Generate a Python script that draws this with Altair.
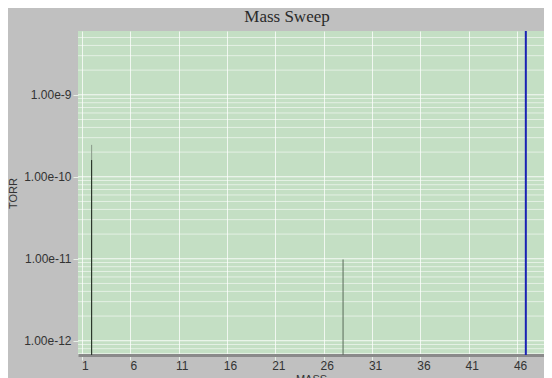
import altair as alt
import pandas as pd

# ---- data ----
peak_mass = [2.0, 2.0, 28.0]
peak_torr = [2.45e-10, 1.6e-10, 9.8e-12]
peak_tone = ["light", "dark", "mid"]
cursor_mass = [46.9]

x_ticks = [1, 6, 11, 16, 21, 26, 31, 36, 41, 46]
y_ticks = [1e-12, 1e-11, 1e-10, 1e-9]
grid_mantissa = [1, 2, 3, 4, 5, 6, 7, 8, 9]
grid_exponent = [-13, -12, -11, -10, -9]

x_domain = [0.59, 48.78]
y_domain = [6.7e-13, 6.0e-9]

peaks = pd.DataFrame({"mass": peak_mass, "torr": peak_torr, "tone": peak_tone})
cursor = pd.DataFrame({"mass": cursor_mass})
grid_rows = []
for e in grid_exponent:
    for m in grid_mantissa:
        v = m * 10.0 ** e
        if y_domain[0] <= v <= y_domain[1]:
            grid_rows.append({"torr": v, "major": m == 1})
grid = pd.DataFrame(grid_rows)

W, H = 466, 324

x_scale = alt.Scale(domain=x_domain, nice=False, zero=False)
y_scale = alt.Scale(type="log", domain=y_domain, nice=False)
x_axis = alt.Axis(values=x_ticks, title="MASS", grid=True, labelOffset=3)
y_axis = alt.Axis(values=y_ticks, format=".2e", title="TORR", grid=False)

hgrid = alt.Chart(grid).mark_rule(color="white").encode(
    y=alt.Y("torr:Q", scale=y_scale, axis=y_axis),
    strokeOpacity=alt.condition("datum.major", alt.value(0.85), alt.value(0.55)),
)

peak_layer = alt.Chart(peaks).mark_rule(strokeWidth=1).encode(
    x=alt.X("mass:Q", scale=x_scale, axis=x_axis),
    y=alt.Y("torr:Q", scale=y_scale, axis=y_axis),
    y2=alt.value(H),
    color=alt.Color("tone:N", legend=None,
                    scale=alt.Scale(domain=["light", "dark", "mid"],
                                    range=["#8a9a8a", "#1e2a1e", "#5a6a5a"])),
)

cursor_layer = alt.Chart(cursor).mark_rule(color="#1a22b4", strokeWidth=2).encode(
    x=alt.X("mass:Q", scale=x_scale, axis=x_axis),
)

chart = alt.layer(hgrid, peak_layer, cursor_layer).properties(
    width=W,
    height=H,
    title=alt.TitleParams("Mass Sweep", font="Liberation Serif", fontSize=17,
                          fontWeight="normal", color="#2a2a2a", dx=-24, offset=4),
    autosize=alt.AutoSizeParams(type="none"),
    padding={"left": 70, "top": 23, "right": 0, "bottom": 30},
    background="#c0c0c0",
).configure_view(
    fill="#c4dfc4", stroke=None
).configure_axis(
    labelFont="Liberation Sans", labelFontSize=12, labelColor="#333333",
    titleFont="Liberation Sans", titleFontSize=11, titleColor="#333333",
    titleFontWeight="normal",
    tickColor="#e8f2e8", tickSize=5,
    gridColor="white", gridOpacity=0.75,
).configure_axisX(
    domainColor="#8a8a8a", domainWidth=3, titlePadding=2, labelPadding=0,
).configure_axisY(
    domain=False, titlePadding=5, labelPadding=2,
)

chart.save("out.html", embed_options={"renderer": "svg", "actions": False})
